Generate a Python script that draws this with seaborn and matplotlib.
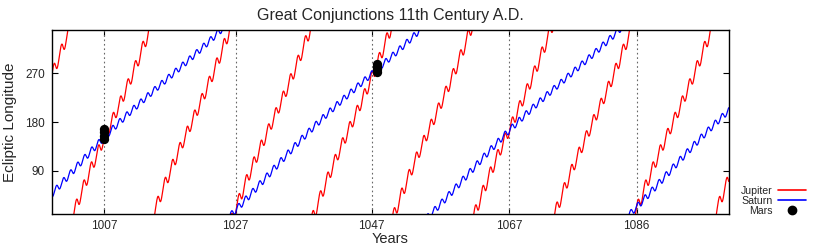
import numpy as np
import pandas as pd
import matplotlib
matplotlib.use("Agg")
import matplotlib.pyplot as plt
from matplotlib.lines import Line2D
import seaborn as sns

# ---- data -----------------------------------------------------------------
# Mean orbital elements (J2000): a, e, I, L, long. perihelion, long. node
earth_elements = [1.00000261, 0.01671123, -0.00001531, 100.46457166, 102.93768193, 0.0]
earth_rates = [0.00000562, -0.00004392, -0.01294668, 35999.37244981, 0.32327364, 0.0]
jupiter_elements = [5.20288700, 0.04838624, 1.30439695, 34.39644051, 14.72847983, 100.47390909]
jupiter_rates = [-0.00011607, -0.00013253, -0.00183714, 3034.74612775, 0.21252668, 0.20469106]
saturn_elements = [9.53667594, 0.05386179, 2.48599187, 49.95424423, 92.59887831, 113.66242448]
saturn_rates = [-0.00125060, -0.00050991, 0.00193609, 1222.49362201, -0.41897216, -0.28867794]
precession_per_century = 1.397

year_start, year_end = 1000.0, 1100.0

# tick positions (conjunction dates) and their labels
tick_years = [1007.68, 1027.15, 1047.25, 1067.58, 1086.4]
tick_labels = ["1007", "1027", "1047", "1067", "1086"]

# Mars positions
mars_years = [1007.68, 1007.68, 1007.68, 1007.68, 1048.03, 1048.03, 1048.03, 1048.03]
mars_longitudes = [148, 154, 161, 167, 273, 278, 282, 287]


def heliocentric(el, rt, T):
    a, e, inc, L, w, node = [el[i] + rt[i] * T for i in range(6)]
    M = np.radians((L - w) % 360.0)
    E = M.copy()
    for _ in range(12):
        E = E - (E - e * np.sin(E) - M) / (1 - e * np.cos(E))
    xp = a * (np.cos(E) - e)
    yp = a * np.sqrt(1 - e * e) * np.sin(E)
    om = np.radians(w - node)
    On = np.radians(node)
    Ir = np.radians(inc)
    x = (np.cos(om) * np.cos(On) - np.sin(om) * np.sin(On) * np.cos(Ir)) * xp + \
        (-np.sin(om) * np.cos(On) - np.cos(om) * np.sin(On) * np.cos(Ir)) * yp
    y = (np.cos(om) * np.sin(On) + np.sin(om) * np.cos(On) * np.cos(Ir)) * xp + \
        (-np.sin(om) * np.sin(On) + np.cos(om) * np.cos(On) * np.cos(Ir)) * yp
    return x, y


years = np.arange(year_start, year_end + 0.001, 0.01)
T = (years - 2000.0) / 100.0
xe, ye = heliocentric(earth_elements, earth_rates, T)

frames = []
for name, el, rt in [("Jupiter", jupiter_elements, jupiter_rates),
                     ("Saturn", saturn_elements, saturn_rates)]:
    xp, yp = heliocentric(el, rt, T)
    lon = (np.degrees(np.arctan2(yp - ye, xp - xe)) + precession_per_century * T) % 360.0
    seg = np.concatenate([[0], np.cumsum(np.abs(np.diff(lon)) > 180)])
    frames.append(pd.DataFrame({"year": years, "lon": lon, "seg": seg, "planet": name}))
df = pd.concat(frames, ignore_index=True)
df["unit"] = df["planet"] + df["seg"].astype(str)

mars_df = pd.DataFrame({"year": mars_years, "lon": mars_longitudes})

# ---- plot -----------------------------------------------------------------
sns.set_style("ticks")
plt.rcParams["font.family"] = ["Liberation Sans", "DejaVu Sans"]

fig = plt.figure(figsize=(8.17, 2.45), dpi=100)
ax = fig.add_axes([52 / 817, 31 / 245, 676.7 / 817, 184 / 245])

for ty in tick_years:
    ax.axvline(ty, color="#666666", lw=0.8, ls=(0, (1.5, 2.5)), zorder=1)

sns.lineplot(data=df, x="year", y="lon", hue="planet", units="unit", estimator=None,
             palette={"Jupiter": "#ff0000", "Saturn": "#0000ff"}, lw=0.9,
             sort=False, ax=ax, legend=False, zorder=2)
sns.scatterplot(data=mars_df, x="year", y="lon", color="black", s=45,
                edgecolor="black", linewidth=0, ax=ax, zorder=3)

ax.set_xlim(year_start, year_end)
ax.set_ylim(10, 350)
ax.set_xticks(tick_years)
ax.set_xticklabels(tick_labels)
ax.set_yticks([90, 180, 270])
ax.tick_params(axis="both", direction="in", length=4, width=0.8, labelsize=8.5,
               top=True, right=True, pad=5, color="black")
ax.tick_params(axis="x", pad=4)
for sp in ax.spines.values():
    sp.set_linewidth(1.0)
    sp.set_color("black")
ax.set_xlabel("Years", fontsize=10.5, labelpad=0)
ax.set_ylabel("Ecliptic Longitude", fontsize=11, labelpad=6)
ax.set_title("Great Conjunctions 11th Century A.D.", fontsize=11.5, pad=7)

handles = [Line2D([], [], color="#ff0000", lw=1.2),
           Line2D([], [], color="#0000ff", lw=1.2),
           Line2D([], [], color="black", marker="o", ls="none", markersize=6)]
fig.legend(handles, ["Jupiter", "Saturn", "Mars"], loc="lower right",
           bbox_to_anchor=(806 / 817, 29 / 245), frameon=False, markerfirst=False,
           fontsize=7.6, handlelength=2.7, handletextpad=0.5, labelspacing=0.0,
           borderaxespad=0, borderpad=0)

fig.savefig("out.png", dpi=100)
